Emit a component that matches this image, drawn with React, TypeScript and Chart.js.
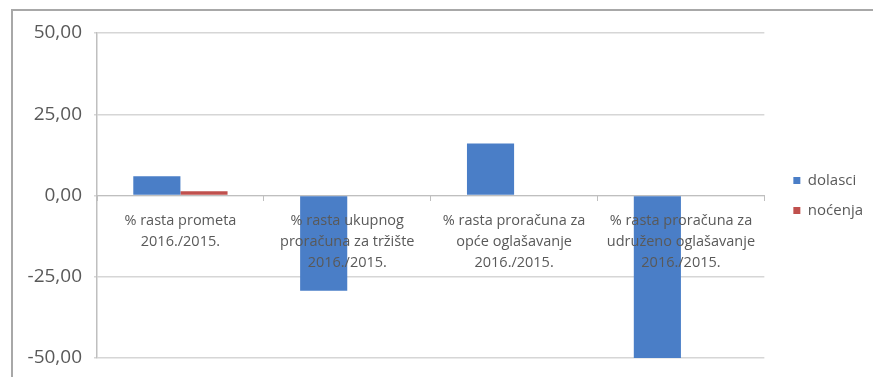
import React, { useEffect, useRef } from "react";
import { Chart, registerables } from "chart.js";

Chart.register(...registerables);

const categories: string[][] = [
  ["% rasta prometa", "2016./2015."],
  ["% rasta ukupnog", "proračuna za tržište", "2016./2015."],
  ["% rasta proračuna za", "opće oglašavanje", "2016./2015."],
  ["% rasta proračuna za", "udruženo oglašavanje", "2016./2015."],
];
const seriesNames = ["dolasci", "noćenja"];
const dolasci = [5.9, -29.3, 16.0, -50.0];
const nocenja: (number | null)[] = [1.3, null, null, null];
const yMin = -50;
const yMax = 50;
const yStep = 25;

const FONT = "'Open Sans', 'Noto Sans', sans-serif";
const TEXT = "#595959";

export default function App() {
  const ref = useRef<HTMLCanvasElement | null>(null);

  useEffect(() => {
    if (!ref.current) return;
    const chart = new Chart(ref.current, {
      type: "bar",
      data: {
        labels: categories,
        datasets: [
          {
            label: seriesNames[0],
            data: dolasci,
            backgroundColor: "#4A7EC7",
            borderWidth: 0,
            categoryPercentage: 0.565,
            barPercentage: 1,
          },
          {
            label: seriesNames[1],
            data: nocenja,
            backgroundColor: "#C0504D",
            borderWidth: 0,
            categoryPercentage: 0.565,
            barPercentage: 1,
          },
        ],
      },
      options: {
        animation: false,
        responsive: false,
        maintainAspectRatio: false,
        layout: { padding: { top: 33, bottom: 19, left: 0, right: 0 } },
        plugins: {
          tooltip: { enabled: false },
          legend: {
            position: "right",
            align: "center",
            labels: {
              boxWidth: 7,
              boxHeight: 7,
              padding: 15,
              color: TEXT,
              font: { family: FONT, size: 15 },
            },
          },
        },
        scales: {
          x: {
            position: { y: 0 } as any,
            offset: true,
            afterFit: (s: any) => {
              s.paddingTop = 0;
              s.paddingBottom = 0;
            },
            grid: {
              display: true,
              drawOnChartArea: false,
              drawTicks: true,
              tickLength: 5,
              color: "#bfbfbf",
              offset: true,
              z: 1,
            },
            border: { display: true, color: "#bfbfbf", width: 1, z: 1 },
            ticks: {
              z: 1,
              color: TEXT,
              padding: 10,
              maxRotation: 0,
              autoSkip: false,
              font: { family: FONT, size: 14.5, lineHeight: "21px" as any },
            },
          },
          y: {
            min: yMin,
            max: yMax,
            afterFit: (s: any) => {
              s.width = 97;
              s.paddingTop = 0;
              s.paddingBottom = 0;
            },
            ticks: {
              stepSize: yStep,
              color: TEXT,
              padding: 12,
              font: { family: FONT, size: 19 },
              callback: (v: any) => Number(v).toFixed(2).replace(".", ","),
            },
            grid: {
              color: "#d6d6d6",
              lineWidth: 1.5,
              drawTicks: true,
              tickLength: 3,
            },
            border: { display: true, color: "#bfbfbf", width: 1.5 },
          },
          y2: {
            type: "linear",
            position: "right",
            display: true,
            afterFit: (s: any) => {
              s.width = 14;
              s.paddingTop = 0;
              s.paddingBottom = 0;
            },
            ticks: { display: false },
            grid: { display: false },
            border: { display: false },
          },
        },
      },
    });
    return () => chart.destroy();
  }, []);

  return (
    <div
      style={{
        position: "fixed",
        left: 0,
        top: 0,
        width: 873,
        height: 377,
        overflow: "hidden",
        background: "#fff",
      }}
    >
      <div
        style={{
          position: "absolute",
          left: 11,
          top: 9,
          width: 900,
          height: 420,
          borderTop: "2px solid #a8a8a8",
          borderLeft: "2px solid #a8a8a8",
          boxSizing: "border-box",
        }}
      />
      <canvas
        ref={ref}
        width={873}
        height={377}
        style={{ position: "absolute", left: 0, top: 0, width: 873, height: 377 }}
      />
    </div>
  );
}
